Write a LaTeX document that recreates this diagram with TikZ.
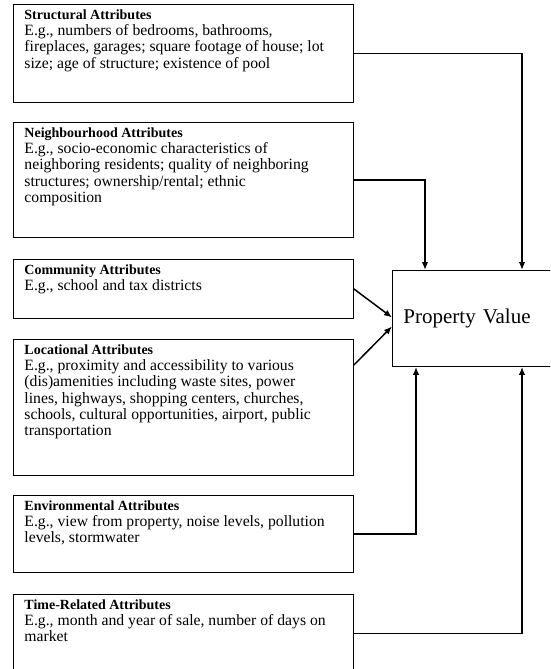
\documentclass[tikz,border=0pt]{standalone}
\usepackage{fontspec}
\setmainfont{Liberation Serif}
\usetikzlibrary{arrows.meta}

\begin{document}
\begin{tikzpicture}[x=1pt,y=-1pt]
% Styles (MODIFIABLES)
\tikzstyle{lien}=[-{Latex[length=8pt,width=6.5pt]},line width=1.5pt]
\tikzstyle{attribut}=[draw,line width=0.9pt,anchor=north west,inner xsep=11pt,inner ysep=0pt,minimum width=331pt,font=\fontsize{15.7}{16.3}\selectfont]
\tikzstyle{valeur}=[draw,line width=0.9pt,anchor=north west,inner xsep=11pt,text width=190pt,align=left,minimum height=96pt,font=\fontsize{21}{24}\selectfont]
% Dimensions (MODIFIABLES)
\def\Gauche{13}
\def\Boite#1#2#3{\parbox[c][#1][t]{318pt}{\raggedright\vspace*{5pt}{\fontsize{14}{16.3}\selectfont\textbf{#2}}\\#3}}
% Cadre
\useasboundingbox (0,0) rectangle (550,669);
\clip (0,0) rectangle (550,669);
% Noeuds
\node[attribut] (S) at (\Gauche,4) {\Boite{98pt}{Structural Attributes}{E.g., numbers of bedrooms, bathrooms,\\ fireplaces, garages; square footage of house; lot\\ size; age of structure; existence of pool}};
\node[attribut] (N) at (\Gauche,122) {\Boite{115pt}{Neighbourhood Attributes}{E.g., socio-economic characteristics of\\ neighboring residents; quality of neighboring\\ structures; ownership/rental; ethnic\\ composition}};
\node[attribut] (C) at (\Gauche,259) {\Boite{59pt}{Community Attributes}{E.g., school and tax districts}};
\node[attribut] (L) at (\Gauche,339) {\Boite{136pt}{Locational Attributes}{E.g., proximity and accessibility to various\\ (dis)amenities including waste sites, power\\ lines, highways, shopping centers, churches,\\ schools, cultural opportunities, airport, public\\ transportation}};
\node[attribut] (E) at (\Gauche,495) {\Boite{77pt}{Environmental Attributes}{E.g., view from property, noise levels, pollution\\ levels, stormwater}};
\node[attribut] (T) at (\Gauche,594) {\Boite{78pt}{Time-Related Attributes}{E.g., month and year of sale, number of days on\\ market}};
\node[valeur] (V) at (392,270) {Property Value};
% Arcs
\draw[lien] (S.east) -| ([xshift=130pt]V.north west);
\draw[lien] (N.east) -| ([xshift=33pt]V.north west);
\draw[lien] (C.east) -- ([yshift=1pt]V.west);
\draw[lien] ([yshift=-26pt]L.north east) -- ([yshift=-8pt]V.west);
\draw[lien] (E.east) -| ([xshift=24pt]V.south west);
\draw[lien] (T.east) -| ([xshift=130pt]V.south west);
\end{tikzpicture}
\end{document}
